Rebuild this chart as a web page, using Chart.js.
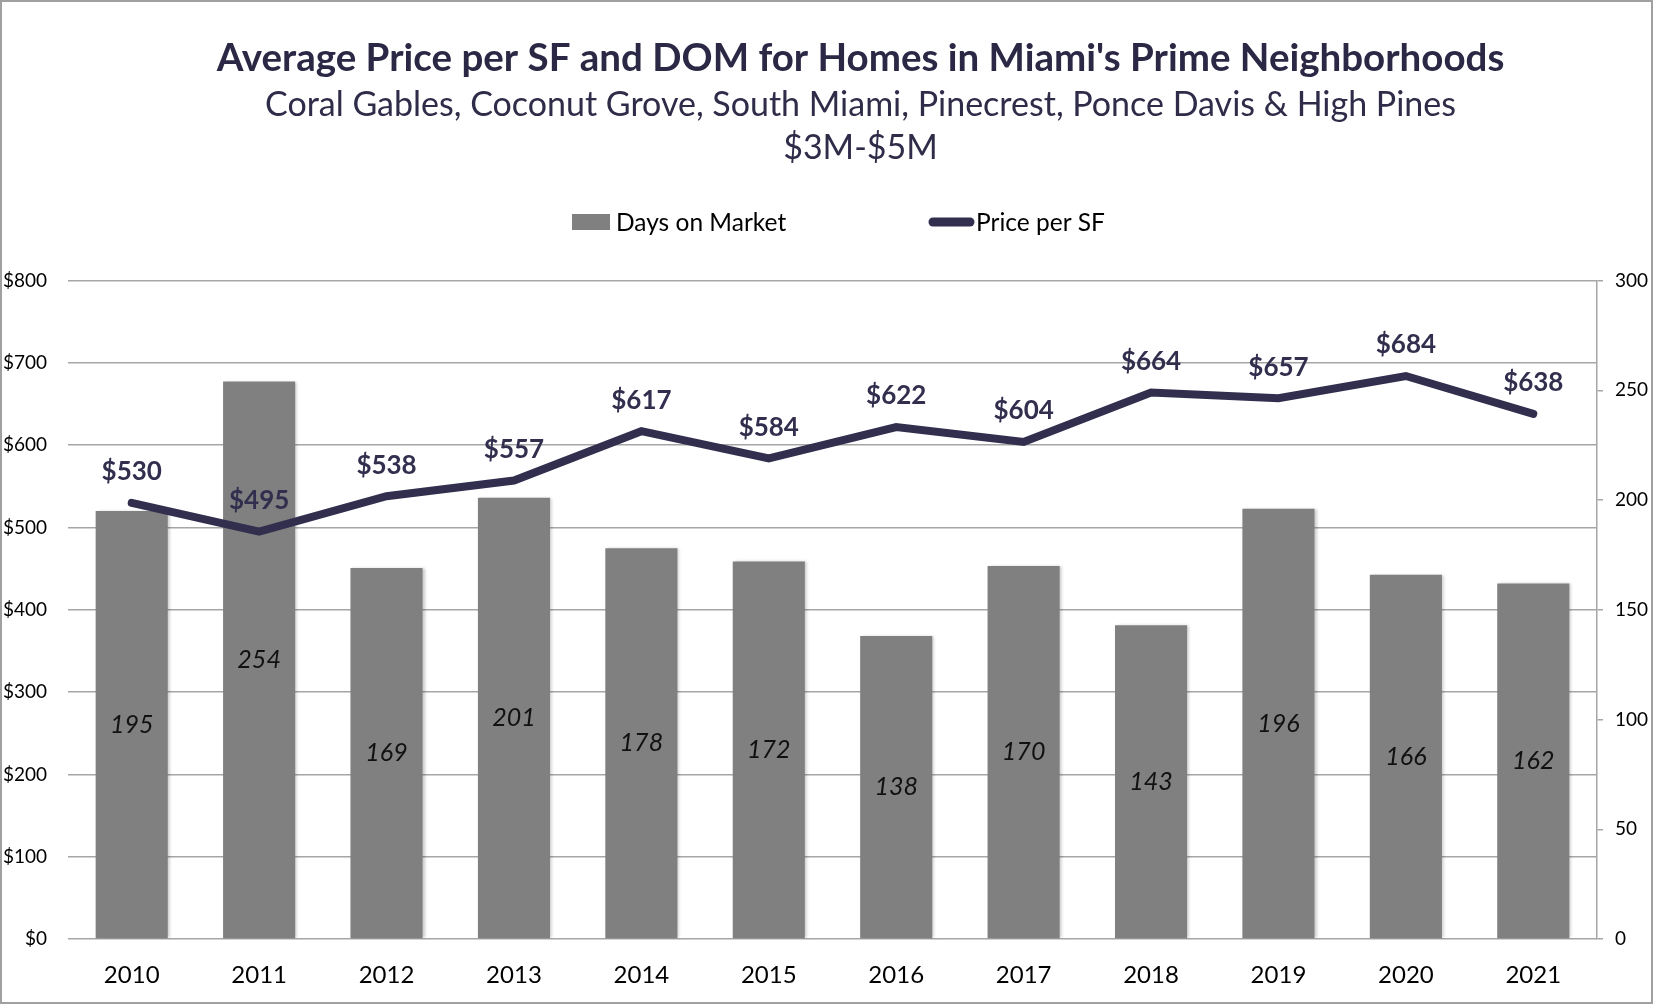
<!DOCTYPE html>
<html>
<head>
<meta charset="utf-8">
<title>Average Price per SF and DOM</title>
<script src="https://cdn.jsdelivr.net/npm/chart.js@4.4.1/dist/chart.umd.min.js"></script>
<style>
  body { margin: 0; background: #fff; }
  canvas { display: block; }
</style>
</head>
<body>
<canvas id="chart" width="1653" height="1004"></canvas>
<script>
// data
const years = ['2010', '2011', '2012', '2013', '2014', '2015', '2016', '2017', '2018', '2019', '2020', '2021'];
const daysOnMarket = [195, 254, 169, 201, 178, 172, 138, 170, 143, 196, 166, 162];
const pricePerSf = [530, 495, 538, 557, 617, 584, 622, 604, 664, 657, 684, 638];

const NAVY = '#322f4e';
const BAR_GRAY = '#808080';
const GRID = '#a6a6a6';
const FONT = 'Lato, "Open Sans", sans-serif';

// white background + thin frame round the whole picture
const framePlugin = {
    id: 'frame',
    beforeDraw(chart) {
        const ctx = chart.ctx;
        ctx.save();
        ctx.fillStyle = '#fff';
        ctx.fillRect(0, 0, chart.width, chart.height);
        ctx.strokeStyle = '#a0a0a0';
        ctx.lineWidth = 2;
        ctx.strokeRect(1, 1, chart.width - 2, chart.height - 2);
        ctx.restore();
    }
};

// the titles sit a bit right of the canvas centre in the original
const titleShift = {
    id: 'titleShift',
    afterLayout(chart) {
        const TitleBox = Chart.Title._element;
        chart.boxes.forEach(b => {
            if (b instanceof TitleBox) {
                b.left += 34;
                b.right += 34;
            }
        });
    }
};

// soft shadow on the bars, like the office chart
const barShadow = {
    id: 'barShadow',
    beforeDatasetDraw(chart, args) {
        if (args.meta.type !== 'bar') return;
        const ctx = chart.ctx;
        ctx.save();
        ctx.shadowColor = 'rgba(0,0,0,0.22)';
        ctx.shadowBlur = 3;
        ctx.shadowOffsetX = 2;
        ctx.shadowOffsetY = 0;
    },
    afterDatasetDraw(chart, args) {
        if (args.meta.type !== 'bar') return;
        chart.ctx.restore();
    }
};

// value labels: italic inside the bars, bold $ above the line
const valueLabels = {
    id: 'valueLabels',
    afterDatasetsDraw(chart) {
        const ctx = chart.ctx;
        ctx.save();
        ctx.textAlign = 'center';
        ctx.textBaseline = 'middle';
        chart.data.datasets.forEach((ds, i) => {
            const meta = chart.getDatasetMeta(i);
            meta.data.forEach((el, j) => {
                if (meta.type === 'bar') {
                    ctx.font = 'italic 25px ' + FONT;
                    ctx.fillStyle = '#111';
                    ctx.fillText(ds.data[j], el.x, (el.y + el.base) / 2);
                } else {
                    ctx.font = 'bold 26px ' + FONT;
                    ctx.fillStyle = NAVY;
                    ctx.fillText('$' + ds.data[j], el.x, el.y - 31);
                }
            });
        });
        ctx.restore();
    }
};

// legend drawn by hand so the wide gap between the two items can be kept
const customLegend = {
    id: 'customLegend',
    afterDraw(chart) {
        const ctx = chart.ctx;
        const y = 222;
        const bars = chart.data.datasets[1];
        const line = chart.data.datasets[0];
        ctx.save();
        ctx.font = '24.5px ' + FONT;
        ctx.textBaseline = 'middle';
        ctx.fillStyle = bars.backgroundColor;
        ctx.fillRect(572, y - 8, 38, 16);
        ctx.fillStyle = '#000';
        ctx.fillText(bars.label, 616, y + 1);

        ctx.strokeStyle = line.borderColor;
        ctx.lineWidth = 9;
        ctx.lineCap = 'round';
        ctx.beginPath();
        ctx.moveTo(933, y);
        ctx.lineTo(970, y);
        ctx.stroke();
        ctx.fillStyle = '#000';
        ctx.fillText(line.label, 976, y + 1);
        ctx.restore();
    }
};

const ctx = document.getElementById('chart').getContext('2d');
new Chart(ctx, {
    data: {
        labels: years,
        datasets: [
            {
                type: 'line',
                label: 'Price per SF',
                data: pricePerSf,
                yAxisID: 'yPrice',
                borderColor: NAVY,
                backgroundColor: NAVY,
                borderWidth: 8,
                borderCapStyle: 'round',
                borderJoinStyle: 'miter',
                pointRadius: 0,
                tension: 0,
                order: 0
            },
            {
                type: 'bar',
                label: 'Days on Market',
                data: daysOnMarket,
                yAxisID: 'yDays',
                backgroundColor: BAR_GRAY,
                barPercentage: 0.566,
                categoryPercentage: 1,
                order: 1
            }
        ]
    },
    options: {
        responsive: false,
        animation: false,
        layout: { padding: 0 },
        plugins: {
            legend: { display: false },
            tooltip: { enabled: false },
            title: {
                display: true,
                text: "Average Price per SF and DOM for Homes in Miami's Prime Neighborhoods",
                color: '#2a2844',
                font: { family: FONT, size: 38.5, weight: 'bold', lineHeight: 1.2 },
                padding: { top: 35, bottom: 2 }
            },
            subtitle: {
                display: true,
                text: ['Coral Gables, Coconut Grove, South Miami, Pinecrest, Ponce Davis & High Pines', '$3M-$5M'],
                color: '#2e2c48',
                font: { family: FONT, size: 34, weight: 'normal', lineHeight: 1.27 },
                padding: { top: 0, bottom: 111 }
            }
        },
        scales: {
            x: {
                grid: { display: false, drawTicks: false },
                border: { display: false },
                ticks: { color: '#000', font: { family: FONT, size: 24 }, padding: 22 },
                afterFit(scale) { scale.height = 65; }
            },
            yPrice: {
                position: 'left',
                min: 0,
                max: 800,
                ticks: {
                    stepSize: 100,
                    color: '#000',
                    font: { family: FONT, size: 19 },
                    padding: 21,
                    callback: v => '$' + v
                },
                grid: { color: GRID, lineWidth: 1.5, drawTicks: false },
                border: { display: false },
                afterFit(scale) { scale.width = 68; }
            },
            yDays: {
                position: 'right',
                min: 0,
                max: 300,
                ticks: {
                    stepSize: 50,
                    color: '#000',
                    font: { family: FONT, size: 19 },
                    padding: 12
                },
                grid: { drawOnChartArea: false, drawTicks: true, tickLength: 6, color: GRID, lineWidth: 1.5 },
                border: { display: true, color: GRID, width: 1.5 },
                afterFit(scale) { scale.width = 56; }
            }
        }
    },
    plugins: [framePlugin, titleShift, barShadow, valueLabels, customLegend]
});
</script>
</body>
</html>
